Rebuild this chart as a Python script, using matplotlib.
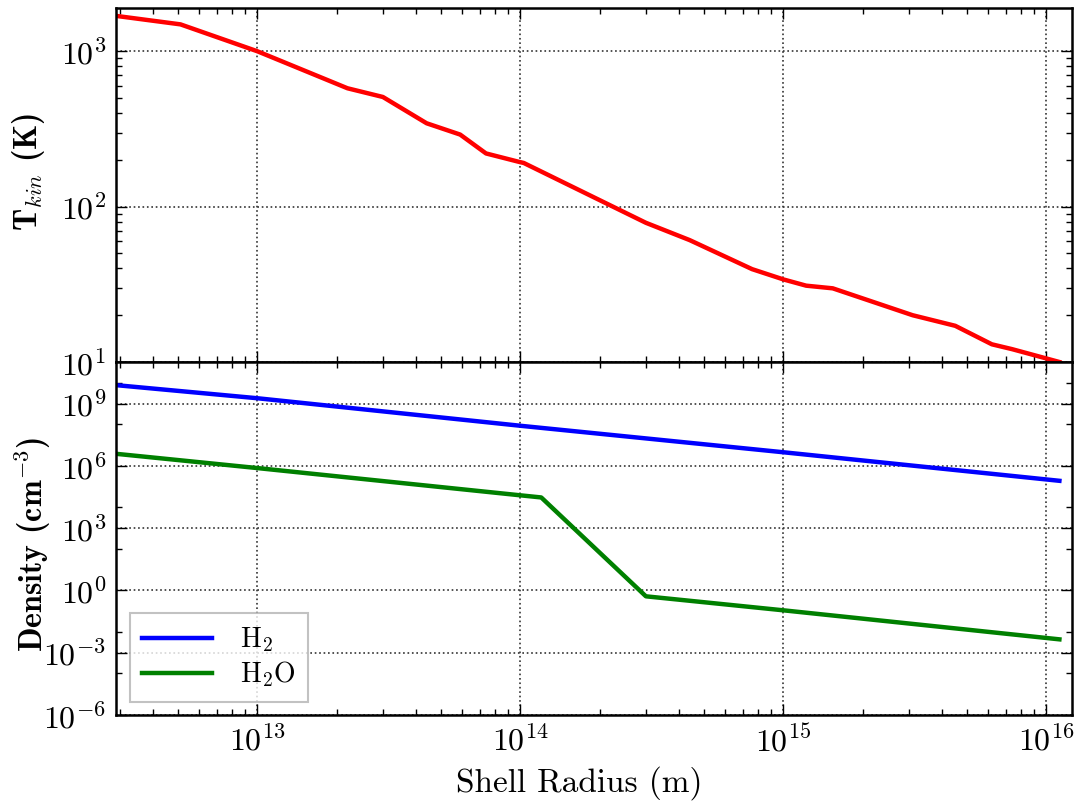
import matplotlib
matplotlib.use('Agg')
import matplotlib.pyplot as plt
from matplotlib.ticker import NullFormatter

# Shell model: kinetic temperature and densities against radius
radius_t = [2.9e12, 5.1e12, 1.0e13, 2.2e13, 3.0e13, 4.4e13, 5.9e13, 7.4e13,
            9.9e13, 1.03e14, 3.0e14, 4.4e14, 7.6e14, 1.0e15, 1.22e15, 1.54e15,
            3.1e15, 4.5e15, 6.2e15, 7.4e15, 1.12e16]
t_kin = [1690, 1490, 1000, 578, 508, 344, 291, 220,
         194, 191, 78.7, 60.9, 39.6, 34.0, 31.0, 29.8,
         20.0, 17.1, 13.0, 12.1, 10.0]

radius_h2 = [2.9e12, 1.0e13, 1.0e14, 1.0e15, 1.12e16]
n_h2 = [7.7e9, 1.8e9, 8.5e7, 4.5e6, 1.9e5]

radius_h2o = [2.9e12, 1.0e13, 1.0e14, 1.2e14, 3.0e14, 1.0e15, 1.12e16]
n_h2o = [3.8e6, 7.8e5, 3.8e4, 3.0e4, 0.52, 0.11, 4.4e-3]

x_limits = (2.9e12, 1.25e16)
t_limits = (10, 1.9e3)
n_limits = (1e-6, 1e11)
n_major = [1e-6, 1e-3, 1e0, 1e3, 1e6, 1e9]
n_minor = [1e-4, 1e-2, 1e2, 1e4, 1e8, 1e10]

plt.rcParams['font.family'] = 'serif'
plt.rcParams['font.serif'] = ['cmr10']
plt.rcParams['mathtext.fontset'] = 'cm'
plt.rcParams['axes.formatter.use_mathtext'] = True
plt.rcParams['font.size'] = 20


def style_axes(ax):
    ax.set_xscale('log')
    ax.set_yscale('log')
    ax.set_xlim(*x_limits)
    ax.grid(True, which='major', color='0.2', linestyle=':', lw=1.2)
    ax.tick_params(which='both', direction='in', top=True, right=True,
                   labelsize=23, pad=7, width=1.0)
    ax.tick_params(which='major', length=8)
    ax.tick_params(which='minor', length=4.5)
    for s in ax.spines.values():
        s.set_linewidth(1.8)


def main():
    fig = plt.figure(figsize=(10.83, 8.05), dpi=100)
    ax1 = fig.add_axes([0.1071, 0.5503, 0.8827, 0.4398])
    ax2 = fig.add_axes([0.1071, 0.1118, 0.8827, 0.4385], sharex=ax1)

    # temperature panel
    ax1.plot(radius_t, t_kin, '-', color='red', lw=3.2)
    style_axes(ax1)
    ax1.set_ylim(*t_limits)
    ax1.yaxis.set_minor_formatter(NullFormatter())
    ax1.tick_params(labelbottom=False)
    ax1.set_ylabel(r'T$_{kin}$ (K)', fontsize=23, family='cmb10')
    ax1.yaxis.set_label_coords(-0.072, 0.537)

    # density panel
    ax2.plot(radius_h2, n_h2, '-', color='blue', lw=3.2, label=r'H$_2$')
    ax2.plot(radius_h2o, n_h2o, '-', color='green', lw=3.2, label=r'H$_2$O')
    style_axes(ax2)
    ax2.set_ylim(*n_limits)
    ax2.set_yticks(n_major)
    ax2.set_yticks(n_minor, minor=True)
    ax2.yaxis.set_minor_formatter(NullFormatter())
    ax2.xaxis.set_minor_formatter(NullFormatter())
    ax2.set_ylabel(r'Density (cm$^{-3}$)', fontsize=23, family='cmb10')
    ax2.yaxis.set_label_coords(-0.066, 0.484)
    ax2.set_xlabel('Shell Radius (m)', fontsize=24)
    ax2.xaxis.set_label_coords(0.485, -0.145)

    leg = ax2.legend(loc='lower left', bbox_to_anchor=(0.0146, 0.037),
                     borderaxespad=0, fancybox=False, fontsize=20,
                     handlelength=2.5, handletextpad=1.0, labelspacing=0.2,
                     borderpad=0.45)
    leg.get_frame().set_edgecolor('0.7')
    leg.get_frame().set_linewidth(1.5)

    fig.savefig('out.png', dpi=100)
    plt.close()


if __name__ == '__main__':
    main()
